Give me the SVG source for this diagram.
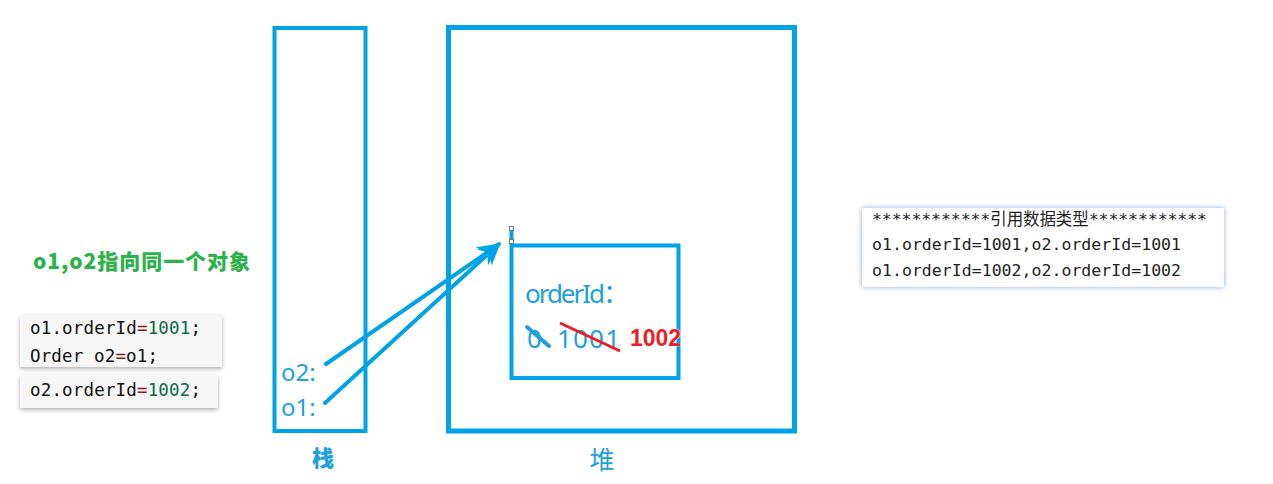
<svg xmlns="http://www.w3.org/2000/svg" width="1273" height="484" viewBox="0 0 1273 484">
<defs>
<style>
.blue{fill:none;stroke:#00a2e8;}
.lbl{font-family:"Noto Sans","Open Sans","Noto Sans CJK SC",sans-serif;fill:#1ea0e0;}
.code{font-family:"DejaVu Sans Mono","Liberation Mono",monospace;font-size:17.5px;fill:#111;}
.eq{fill:#8b1a1a;}
.num{fill:#0a6b4b;}
.cons{font-family:"DejaVu Sans Mono","Liberation Mono","Noto Sans CJK SC",monospace;font-size:16.5px;fill:#222;}
.conn{stroke:#00a2e8;stroke-width:4;stroke-linecap:round;fill:none;}
</style>
<filter id="sh" x="-10%" y="-20%" width="120%" height="150%">
<feDropShadow dx="0" dy="2" stdDeviation="2" flood-color="#000" flood-opacity="0.3"/>
</filter>
<filter id="glowb" x="-5%" y="-20%" width="110%" height="140%">
<feDropShadow dx="0" dy="0" stdDeviation="2.5" flood-color="#5b8fe8" flood-opacity="0.8"/>
</filter>
<marker id="ah" viewBox="0 0 10 10" refX="9" refY="5" markerWidth="5.5" markerHeight="5.5" orient="auto" markerUnits="strokeWidth">
<path d="M0,0 L10,5 L0,10 L3,5 z" fill="#00a2e8"/>
</marker>
</defs>
<rect width="1273" height="484" fill="#fff"/>

<g id="stack">
<rect x="274.5" y="28" width="91" height="403" class="blue" stroke-width="4"/>
<text x="281" y="381" class="lbl" font-size="24">o2:</text>
<text x="281" y="416" class="lbl" font-size="24">o1:</text>
<text x="323" y="466" text-anchor="middle" font-family="Noto Sans CJK SC,sans-serif" font-weight="900" font-size="22" fill="#1ea0e0">栈</text>
</g>

<g id="heap">
<rect x="448.5" y="27.5" width="346" height="403.5" class="blue" stroke-width="5"/>
<text x="602" y="469" text-anchor="middle" font-family="Noto Sans CJK SC,sans-serif" font-size="25" fill="#1ea0e0">堆</text>
</g>

<g id="object">
<rect x="511.5" y="245.5" width="167" height="132.5" class="blue" stroke-width="4"/>
<line x1="511.5" y1="229" x2="511.5" y2="243" stroke="#00a2e8" stroke-width="4"/>
<rect x="509.5" y="226.5" width="4" height="4" fill="#fff" stroke="#777" stroke-width="1"/>
<rect x="509.5" y="239.5" width="4" height="4" fill="#fff" stroke="#777" stroke-width="1"/>
<text x="525" y="303" class="lbl" font-size="26" textLength="104">orderId：</text>
<text x="527" y="348" class="lbl" font-size="26">0</text>
<text x="557" y="348" class="lbl" font-size="26" textLength="63">1001</text>
<line x1="527" y1="327" x2="549" y2="346" stroke="#1ea0e0" stroke-width="4" stroke-linecap="round"/>
<line x1="560" y1="323" x2="620" y2="351" stroke="#ee1c25" stroke-width="3"/>
<text x="630" y="346" font-family="Liberation Sans,Arial,sans-serif" font-weight="bold" font-size="23" fill="#ee1c25" stroke="#fff" stroke-width="0.6" paint-order="stroke">1002</text>
</g>

<g id="connectors">
<line x1="326" y1="364" x2="498" y2="245" class="conn" marker-end="url(#ah)"/>
<line x1="325" y1="403" x2="499" y2="244" class="conn" marker-end="url(#ah)"/>
</g>

<g id="note">
<text x="33" y="269" font-family="Noto Sans CJK SC,sans-serif" font-weight="900" font-size="21" fill="#2cb24a" textLength="217">o1,o2指向同一个对象</text>
</g>

<g id="code1">
<rect x="20" y="315" width="202" height="52" fill="#f7f7f7" filter="url(#sh)"/>
<text x="30" y="334" class="code" textLength="171">o1.orderId<tspan class="eq">=</tspan><tspan class="num">1001</tspan>;</text>
<text x="30" y="362" class="code" textLength="128">Order o2<tspan class="eq">=</tspan>o1;</text>
</g>
<g id="code2">
<rect x="20" y="375" width="198" height="33" fill="#f7f7f7" filter="url(#sh)"/>
<text x="30" y="396" class="code" textLength="171">o2.orderId<tspan class="eq">=</tspan><tspan class="num">1002</tspan>;</text>
</g>

<g id="console">
<rect x="862" y="208" width="362" height="79" fill="#fff" filter="url(#glowb)"/>
<text x="872" y="225" class="cons" textLength="335">************引用数据类型************</text>
<text x="872" y="250" class="cons" textLength="309">o1.orderId=1001,o2.orderId=1001</text>
<text x="872" y="276" class="cons" textLength="309">o1.orderId=1002,o2.orderId=1002</text>
</g>
</svg>
